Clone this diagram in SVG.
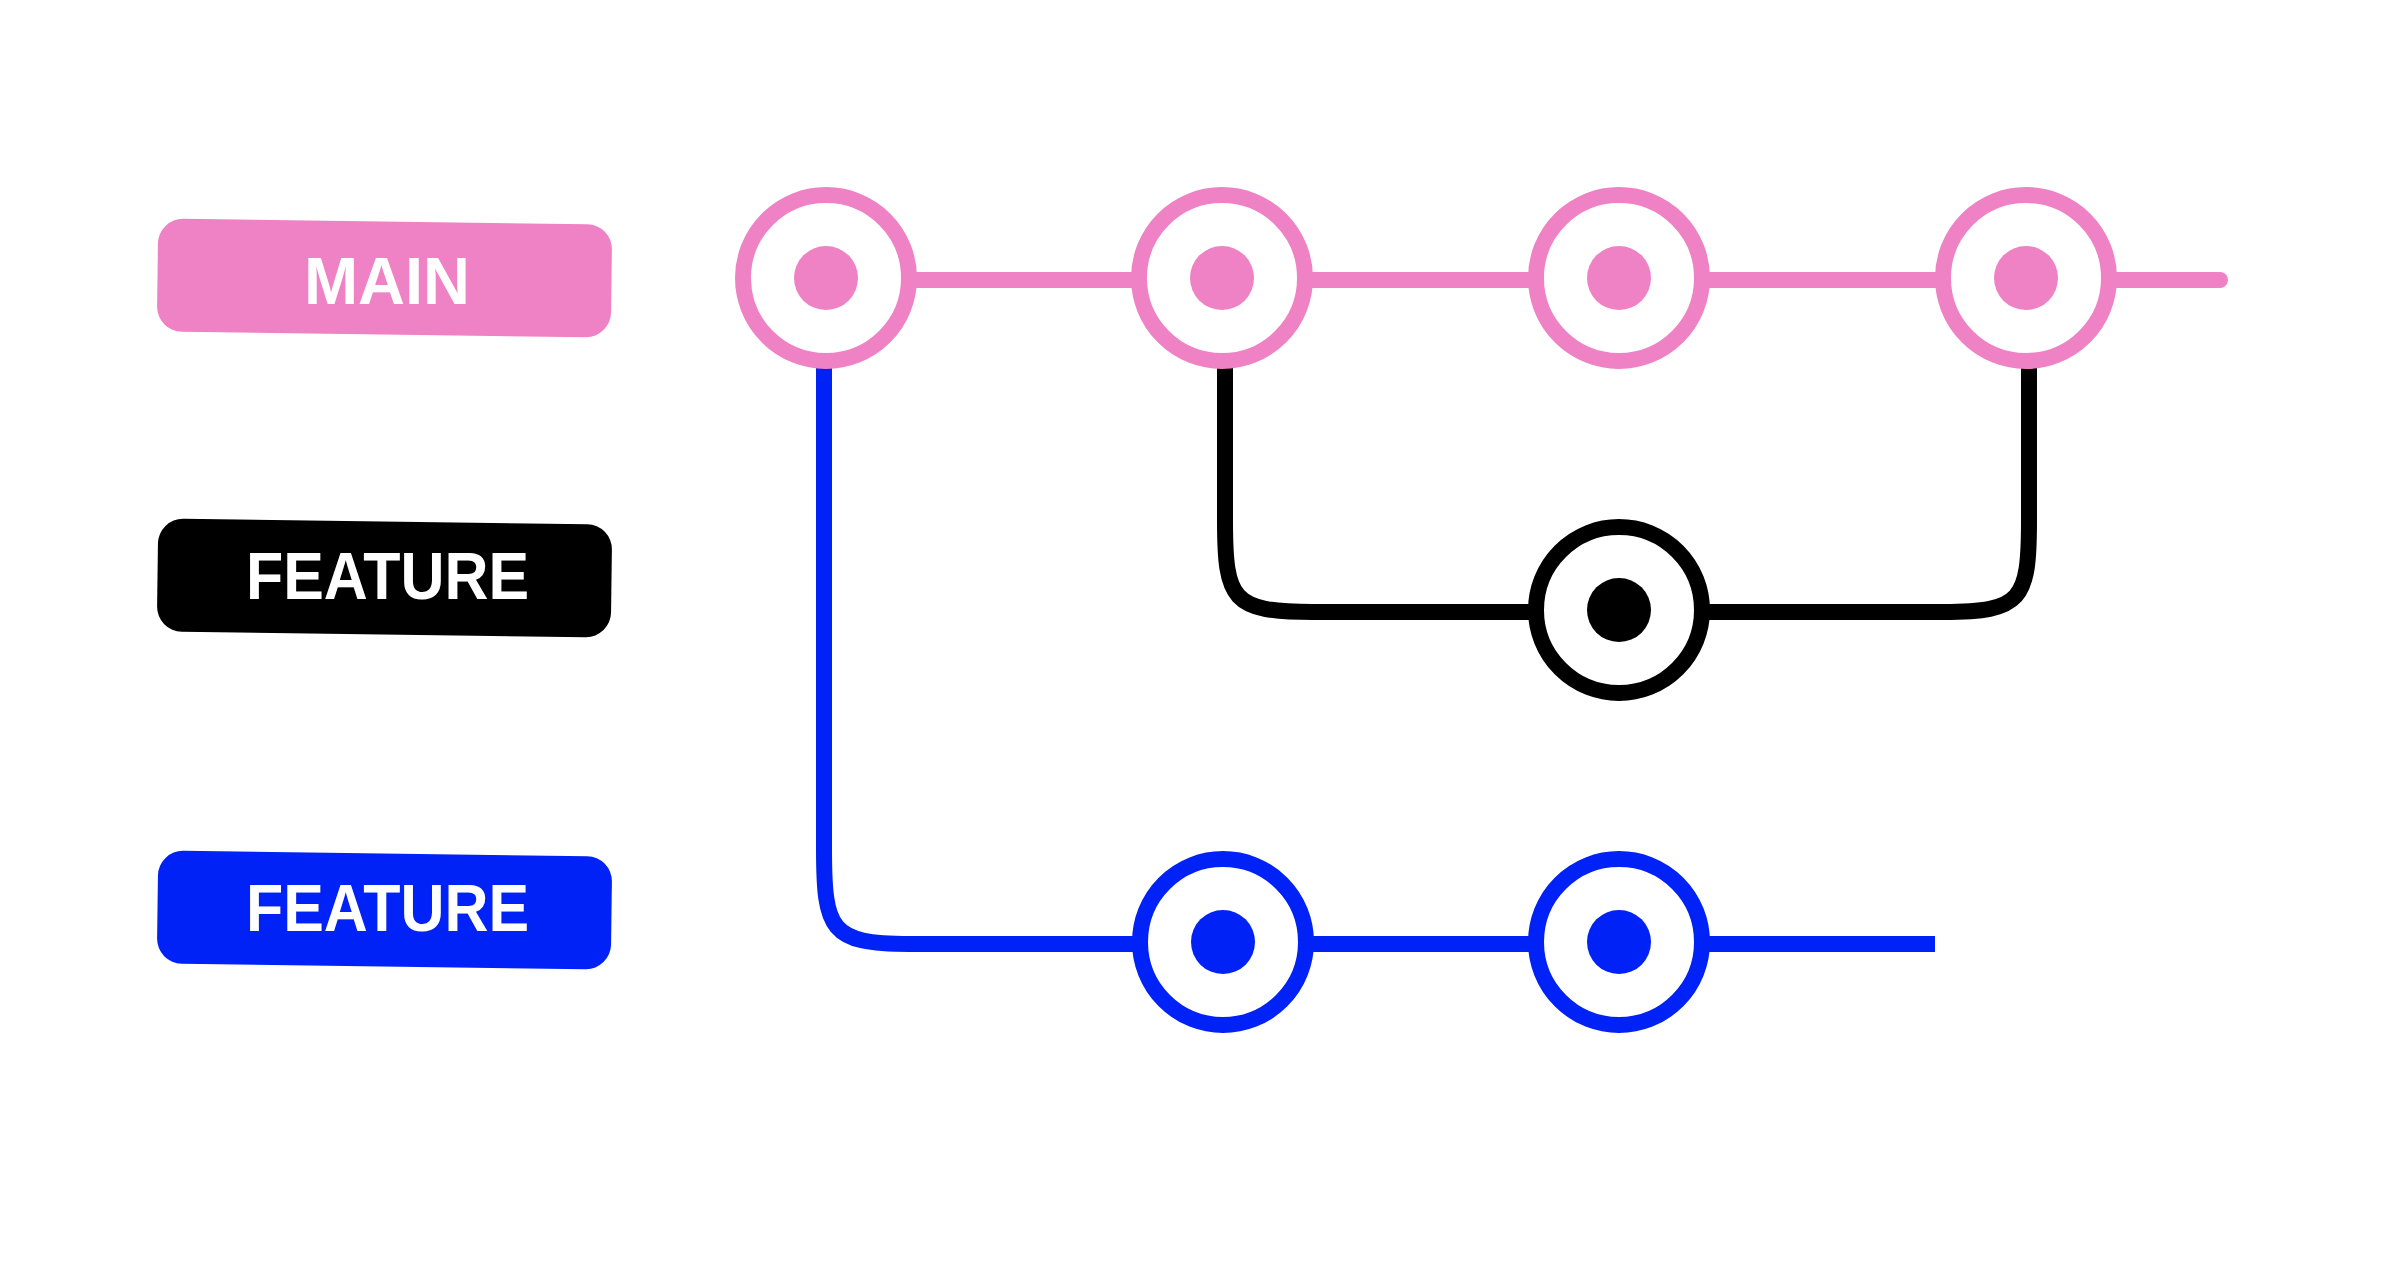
<svg xmlns="http://www.w3.org/2000/svg" width="2408" height="1266" viewBox="0 0 2408 1266">
<style>
.lbl{font-family:"Liberation Sans",Arial,sans-serif;font-weight:700;font-size:66px;fill:#fff;text-anchor:middle}
.ring{fill:#fff;stroke-width:16}
.ln{fill:none;stroke-width:16}
.pink{stroke:#EF82C4}
.blue{stroke:#0022F6}
.black{stroke:#000}
</style>
<rect width="2408" height="1266" fill="#fff"/>
<g id="label-main">
<rect x="157.5" y="221.5" width="454" height="113" rx="25" fill="#EF82C4" transform="rotate(0.76 384.5 278)"/>
<text class="lbl" x="387" y="304" textLength="166" lengthAdjust="spacingAndGlyphs">MAIN</text>
</g>
<g id="label-feature-black">
<rect x="157.5" y="521.5" width="454" height="113" rx="25" fill="#000" transform="rotate(0.76 384.5 578)"/>
<text class="lbl" x="387.5" y="599" textLength="283" lengthAdjust="spacingAndGlyphs">FEATURE</text>
</g>
<g id="label-feature-blue">
<rect x="157.5" y="853.5" width="454" height="113" rx="25" fill="#0022F6" transform="rotate(0.76 384.5 910)"/>
<text class="lbl" x="387.5" y="931" textLength="283" lengthAdjust="spacingAndGlyphs">FEATURE</text>
</g>
<g id="connectors">
<path class="ln pink" d="M826 280 H2220" stroke-linecap="round"/>
<path class="ln blue" d="M824 368 V848 C824 930 830 944 910 944 H1935"/>
<path class="ln black" d="M1225 368 V520 C1225 600 1232 612 1313 612 H1943 C2022 612 2029 600 2029 520 V368"/>
</g>
<g id="main-1"><circle class="ring pink" cx="826" cy="278" r="83"/><circle cx="826" cy="278" r="32" fill="#EF82C4"/></g>
<g id="main-2"><circle class="ring pink" cx="1222" cy="278" r="83"/><circle cx="1222" cy="278" r="32" fill="#EF82C4"/></g>
<g id="main-3"><circle class="ring pink" cx="1619" cy="278" r="83"/><circle cx="1619" cy="278" r="32" fill="#EF82C4"/></g>
<g id="main-4"><circle class="ring pink" cx="2026" cy="278" r="83"/><circle cx="2026" cy="278" r="32" fill="#EF82C4"/></g>
<g id="feature-black-1"><circle class="ring black" cx="1619" cy="610" r="83"/><circle cx="1619" cy="610" r="32" fill="#000"/></g>
<g id="feature-blue-1"><circle class="ring blue" cx="1223" cy="942" r="83"/><circle cx="1223" cy="942" r="32" fill="#0022F6"/></g>
<g id="feature-blue-2"><circle class="ring blue" cx="1619" cy="942" r="83"/><circle cx="1619" cy="942" r="32" fill="#0022F6"/></g>
</svg>
